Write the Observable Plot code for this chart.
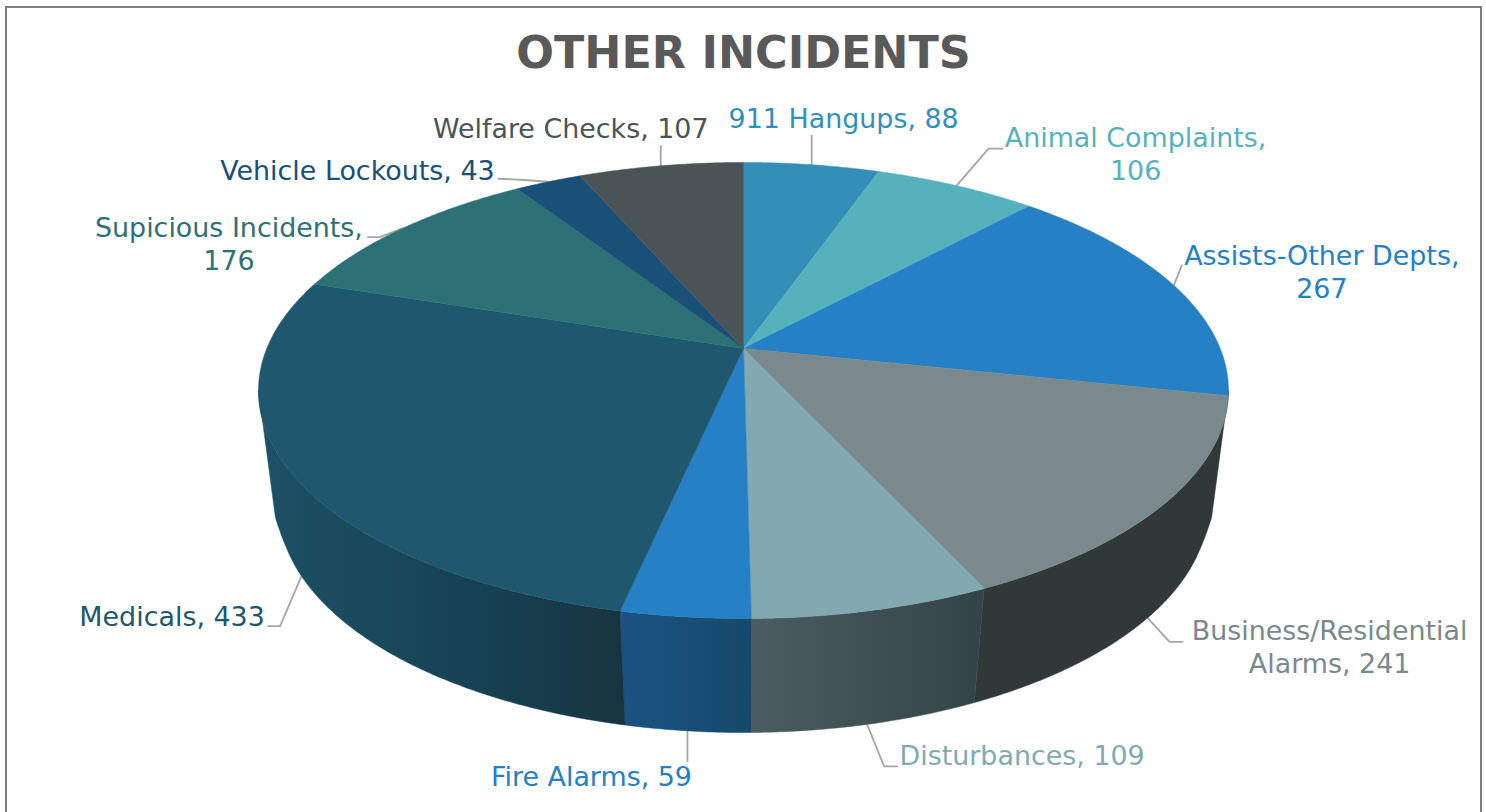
<!DOCTYPE html>
<html>
<head>
<meta charset="utf-8">
<title>Other Incidents</title>
<script src="https://cdn.jsdelivr.net/npm/d3@7"></script>
<script src="https://cdn.jsdelivr.net/npm/@observablehq/plot@0.6"></script>
<style>
  html, body { margin: 0; padding: 0; background: #fff; overflow: hidden; }
  svg { display: block; }
</style>
</head>
<body>
<div id="chart"></div>
<script>
const chartTitle = "OTHER INCIDENTS";
const categories = ["911 Hangups", "Animal Complaints", "Assists-Other Depts", "Business/Residential Alarms",
  "Disturbances", "Fire Alarms", "Medicals", "Supicious Incidents", "Vehicle Lockouts", "Welfare Checks"];
const counts = [88, 106, 267, 241, 109, 59, 433, 176, 43, 107];
const labelTexts = ["911 Hangups, 88", "Animal Complaints,\n106", "Assists-Other Depts,\n267",
  "Business/Residential\nAlarms, 241", "Disturbances, 109", "Fire Alarms, 59", "Medicals, 433",
  "Supicious Incidents,\n176", "Vehicle Lockouts, 43", "Welfare Checks, 107"];
const topColors = ["#338fb8", "#55b2bc", "#2580c5", "#79898c", "#82a9b2", "#2580c5", "#1f576e", "#2d7177", "#1a4f78", "#4a5457"];
// Wall shading of the slices that reach the front, evenly spaced stops from left to right.
const sideColors = [null, null, null, ["#313938", "#313938"], ["#4c5d61", "#324448"],
  ["#1a5282", "#164a6c"], ["#1d5166", "#19485b", "#173f50", "#17343f"], null, null, null];

// Label offset and leader bends, in pixels from the point where each slice's mid-angle meets the rim.
const labelOffsets = [[32, -47], [179, -33], [148, -14], [182, 28], [155, 30], [-96, 45], [-135, 31], [-174, 15], [-191, -12], [-90, -38]];
const leaderBends = [[[0, 0], [0, -29]], [[0, 0], [32, -37], [46, -37]], [[0, 0], [8, -20]], [[0, 0], [22, 24], [35, 24]],
  [[0, 0], [17, 42], [30, 42]], [[0, 0], [0, 30]], [[-6, -7], [-27, 42], [-39, 42]], [[0, 0], [-23, 9], [-35, 9]],
  [[0, 0], [-28, -2], [-50, -3]], [[0, 0], [0, -20]]];

// Perspective view of the disc: the apex is off the visual centre of the ellipse.
const cx = 743, apexY = 348, A = 476.7, B = 220.3, k = 0.1842;
const rad = (deg) => deg * Math.PI / 180;
const tangent = Math.acos(-k) * 180 / Math.PI;
const frontStart = tangent, frontEnd = 360 - tangent;

function topPoint(deg) {
  const X = Math.sin(rad(deg)), Y = -Math.cos(rad(deg)), w = 1 - k * Y;
  return [cx + A * X / w, apexY + B * Y / w];
}
// Lower rim of the disc, slightly smaller than the upper rim, with a fuller shoulder just past each tangent.
function bottomPoint(deg) {
  const [x, y] = topPoint(deg);
  const d = Math.min(Math.abs(deg - frontStart), Math.abs(deg - frontEnd));
  const fade = Math.max(0, Math.min(1, 1 - (d - 3) / 9));
  const shoulder = 0.0078 * fade * fade;
  return [cx + 0.959 * (1 + shoulder) * (x - cx), 505 + 0.9956 * (y - 390)];
}

const total = d3.sum(counts);
const cumulative = d3.cumsum(counts);
const slices = categories.map((name, i) => {
  const end = cumulative[i] / total * 360;
  const start = (cumulative[i] - counts[i]) / total * 360;
  return {name, i, start, end, mid: (start + end) / 2};
});

const arcDegrees = (a, b, step) => {
  const n = Math.max(1, Math.ceil((b - a) / step));
  return d3.range(n + 1).map((j) => a + (b - a) * j / n);
};

// Upper face: one closed polygon per slice.
const topPolys = slices.flatMap((s) => {
  const rim = arcDegrees(s.start, s.end, 0.5).map(topPoint);
  const pts = [[cx, apexY], ...rim, [cx, apexY]];
  return pts.map(([x, y]) => ({x, y, id: s.i, color: topColors[s.i]}));
});

// Front wall: one polygon per slice. The wall runs from tangent to tangent,
// and the lower rim joins the silhouette a little past each tangent.
const walls = slices.flatMap((s) => {
  if (!sideColors[s.i]) return [];
  const a = s.i === 3 ? frontStart : s.start;
  const b = Math.min(s.end, frontEnd);
  const lowA = a === frontStart ? a + 3 : a;
  const lowB = b === frontEnd ? b - 3 : b;
  const tops = arcDegrees(a, b, 0.5).map(topPoint);
  const lows = arcDegrees(lowA, lowB, 0.5).map(bottomPoint).reverse();
  return [{i: s.i, pts: [...tops, ...lows, tops[0]]}];
});
const wallPolys = walls.flatMap(({i, pts}) =>
  pts.map(([x, y]) => ({x, y, id: i, paint: `url(#wall-${i})`})));

// Horizontal shading for the walls, placed through the x scale.
function wallGradients(index, {x}) {
  const defs = d3.create("svg:defs");
  for (const {i, pts} of walls) {
    const [x0, x1] = d3.extent(pts, (p) => p[0]);
    const g = defs.append("linearGradient")
      .attr("id", `wall-${i}`)
      .attr("gradientUnits", "userSpaceOnUse")
      .attr("x1", x(x0)).attr("x2", x(x1))
      .attr("y1", 0).attr("y2", 0);
    sideColors[i].forEach((c, j, list) => {
      g.append("stop").attr("offset", j / (list.length - 1)).attr("stop-color", c);
    });
  }
  return defs.node();
}

// Labels and their leader lines start at the outer rim of each slice.
const anchors = slices.map((s) => {
  const cos = Math.cos(rad(s.mid));
  return cos < -k ? bottomPoint(s.mid) : topPoint(s.mid);
});
const labels = slices.map((s) => {
  const [ax, ay] = anchors[s.i];
  const [dx, dy] = labelOffsets[s.i];
  return {x: ax + dx, y: ay + dy, text: labelTexts[s.i], color: topColors[s.i]};
});
const leaders = slices.flatMap((s) => {
  const [ax, ay] = anchors[s.i];
  return leaderBends[s.i].map(([dx, dy]) => ({x: ax + dx, y: ay + dy, id: s.i}));
});

const chart = Plot.plot({
  width: 1486,
  height: 812,
  margin: 0,
  style: {background: "#fff", fontFamily: "'DejaVu Sans', Verdana, sans-serif"},
  x: {domain: [0, 1486], range: [0, 1486], axis: null},
  y: {domain: [0, 812], range: [0, 812], axis: null},
  color: {type: "identity"},
  marks: [
    wallGradients,
    Plot.ruleX([5.5, 1480.5], {y1: 6, y2: 812, stroke: "#7f7f7f", strokeWidth: 2}),
    Plot.ruleY([6.5], {x1: 5, x2: 1481, stroke: "#7f7f7f", strokeWidth: 2}),
    Plot.line(leaders, {x: "x", y: "y", z: "id", stroke: "#a6a6a6", strokeWidth: 1.8, curve: "linear"}),
    Plot.line(wallPolys, {x: "x", y: "y", z: "id", fill: "paint", stroke: "paint", strokeWidth: 0.5, curve: "linear"}),
    Plot.line(topPolys, {x: "x", y: "y", z: "id", fill: "color", stroke: "color", strokeWidth: 0.5, curve: "linear"}),
    Plot.text(labels, {x: "x", y: "y", text: "text", fill: "color", fontSize: 26.9, lineHeight: 1.22, textAnchor: "middle"}),
    Plot.text([chartTitle], {x: () => cx, y: () => 53, text: (d) => d, fill: "#595959", fontSize: 44.4, fontWeight: "bold", textAnchor: "middle"})
  ]
});
document.getElementById("chart").append(chart);
</script>
</body>
</html>
